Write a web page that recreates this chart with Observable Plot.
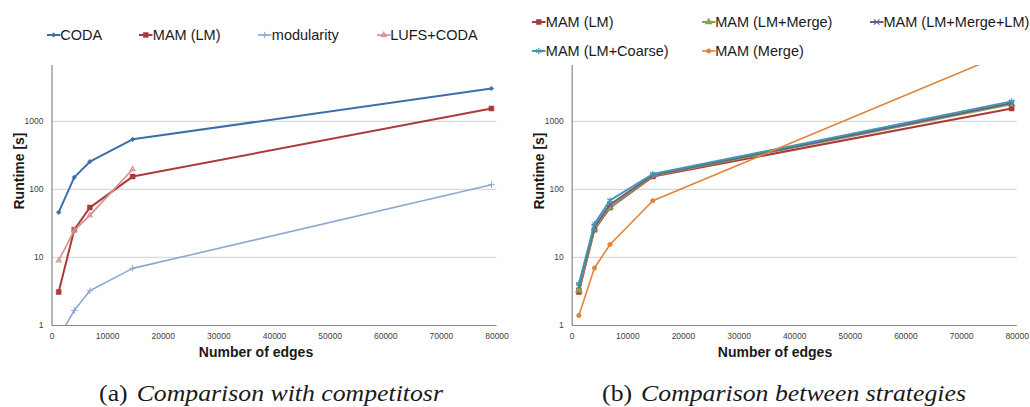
<!DOCTYPE html>
<html><head><meta charset="utf-8">
<script src="https://cdn.jsdelivr.net/npm/d3@7"></script>
<script src="https://cdn.jsdelivr.net/npm/@observablehq/plot@0.6"></script>
<style>
body{margin:0;background:#fff;}
#wrap{position:relative;width:1030px;height:407px;overflow:hidden;font-family:"Liberation Sans",Arial,sans-serif;}
.panel{position:absolute;top:0;width:515px;height:407px;}
.leg{position:absolute;font-size:14.5px;color:#1a1a1a;white-space:nowrap;line-height:16px;transform:translateY(-50%);}
.sw{position:absolute;overflow:visible;}
.ylab{position:absolute;font-weight:bold;font-size:14px;color:#1a1a1a;white-space:nowrap;transform:translate(-50%,-50%) rotate(-90deg);}
.xlab{position:absolute;font-weight:bold;font-size:14px;color:#1a1a1a;white-space:nowrap;transform:translate(-50%,-50%);}
.cap{position:absolute;font-family:"Liberation Serif","Times New Roman",serif;font-size:23px;color:#1a1a1a;white-space:nowrap;line-height:26px;transform:translate(-50%,-50%) scaleX(1.12);}
.cap i{margin-left:8px;}
</style></head><body>
<div id="wrap"></div>
<script>
// ---- data ----
const edges = [1200, 4000, 6800, 14500, 79000];
const lufsEdges = [1200, 4000, 6800, 14500];
const coda = [46, 150, 255, 543, 3030];
const mamLM = [3.1, 25.5, 54, 154, 1540];
const modularity = [0.67, 1.66, 3.24, 6.9, 117];
const lufsCoda = [9.0, 25, 41.5, 197];
const mamLMMerge = [3.3, 26.4, 55, 158, 1780];
const mamLMMergeLM = [3.8, 28, 60, 162, 1860];
const mamLMCoarse = [4.1, 31, 69, 168, 1960];
const mamMerge = [1.4, 7.0, 15.5, 68, 10800];
const xTicks = [0, 10000, 20000, 30000, 40000, 50000, 60000, 70000, 80000];
const yTicks = [1, 10, 100, 1000];
const yGrid = [10, 100, 1000];

const seriesA = [
  {name:"CODA", xs:edges, ys:coda, color:"#3D6FA8", symbol:"diamond2", r:2.1, w:2, filled:true},
  {name:"MAM (LM)", xs:edges, ys:mamLM, color:"#AA3B39", symbol:"square", r:2.8, w:2, filled:true},
  {name:"modularity", xs:edges, ys:modularity, color:"#8FA8D3", symbol:"plus", r:2.2, w:1.6, filled:false},
  {name:"LUFS+CODA", xs:lufsEdges, ys:lufsCoda, color:"#D58E8E", symbol:"triangle", r:1.8, w:1.6, filled:false}
];
const seriesB = [
  {name:"MAM (LM)", xs:edges, ys:mamLM, color:"#AA3B39", symbol:"square", r:2.8, w:2, filled:true},
  {name:"MAM (LM+Merge)", xs:edges, ys:mamLMMerge, color:"#89A54E", symbol:"triangle", r:2.6, w:2, filled:true},
  {name:"MAM (LM+Merge+LM)", xs:edges, ys:mamLMMergeLM, color:"#71588F", symbol:"times", r:2.6, w:2, filled:false},
  {name:"MAM (LM+Coarse)", xs:edges, ys:mamLMCoarse, color:"#4198AF", symbol:"asterisk", r:3, w:2, filled:false},
  {name:"MAM (Merge)", xs:edges, ys:mamMerge, color:"#E0843A", symbol:"circle", r:2.3, w:1.6, filled:true}
];

function rows(s){ return s.xs.map((x,i)=>({x, y:s.ys[i]})); }

function makePlot(series, marginLeft, marginRight){
  const marks = [
    Plot.gridY(yGrid, {stroke:"#d9d9d9", strokeOpacity:1, strokeWidth:1.2}),
    Plot.ruleX([0], {stroke:"#868686", strokeWidth:1.2}),
    Plot.ruleY([1], {stroke:"#868686", strokeWidth:1.2}),
    Plot.axisX(xTicks, {tickSize:0, tickPadding:7, tickFormat:d=>String(d), fontSize:8.5, color:"#404040", label:null}),
    Plot.axisY(yTicks, {tickSize:0, tickPadding:8.5, tickFormat:d=>String(d), fontSize:8.5, color:"#404040", label:null})
  ];
  for (const s of series){
    const d = rows(s);
    marks.push(Plot.line(d, {x:"x", y:"y", stroke:s.color, strokeWidth:s.w, clip:true}));
    marks.push(Plot.dot(d, {x:"x", y:"y", symbol:()=>s.symbol, r:s.r, clip:true,
      fill: s.filled ? s.color : "none", stroke: s.color, strokeWidth: s.filled ? 0.5 : 1.1}));
  }
  return Plot.plot({
    width:515, height:407, marginTop:65, marginBottom:82, marginLeft, marginRight,
    style:{fontFamily:"'Liberation Sans', Arial, sans-serif", background:"transparent"},
    x:{domain:[0,80000], label:null},
    y:{type:"log", domain:[1,6600], label:null},
    symbol:{type:"identity"},
    marks
  });
}

const symMap = {diamond2:d3.symbolDiamond2, square:d3.symbolSquare, plus:d3.symbolPlus, triangle:d3.symbolTriangle,
  times:d3.symbolTimes, asterisk:d3.symbolAsterisk, circle:d3.symbolCircle};

function addLegend(panel, s, x, y){
  const svg = d3.select(panel).append("svg").attr("class","sw")
    .attr("width",14).attr("height",10).style("left",(x)+"px").style("top",(y-5)+"px");
  svg.append("line").attr("x1",0).attr("x2",13.5).attr("y1",5).attr("y2",5)
    .attr("stroke",s.color).attr("stroke-width",s.w);
  svg.append("path").attr("transform","translate(6.75,5)")
    .attr("d", d3.symbol(symMap[s.symbol], Math.PI*s.r*s.r)())
    .attr("fill", s.filled ? s.color : "none").attr("stroke", s.color).attr("stroke-width", s.filled?0.5:1.1);
  d3.select(panel).append("div").attr("class","leg").style("left",(x+13.5)+"px").style("top",y+"px").text(s.name);
}

const wrap = document.getElementById("wrap");
const pA = document.createElement("div"); pA.className="panel"; pA.style.left="0px";
const pB = document.createElement("div"); pB.className="panel"; pB.style.left="515px";
wrap.append(pA, pB);
pA.append(makePlot(seriesA, 51.5, 18.5));
pB.append(makePlot(seriesB, 56.7, 13.3));

const legA = [[46.7,35],[139.3,35],[258.3,35],[376.7,35]];
seriesA.forEach((s,i)=>addLegend(pA, s, legA[i][0], legA[i][1]));
const legB = [[17.3,21.5],[186.7,21.5],[355,21.5],[17.3,50.5],[186.7,50.5]];
seriesB.forEach((s,i)=>addLegend(pB, s, legB[i][0], legB[i][1]));

function addText(panel, cls, x, y, html){
  const d = document.createElement("div"); d.className=cls; d.style.left=x+"px"; d.style.top=y+"px"; d.innerHTML=html; panel.append(d);
}
addText(pA, "ylab", 19, 171, "Runtime [s]");
addText(pB, "ylab", 24, 171, "Runtime [s]");
addText(pA, "xlab", 256, 352, "Number of edges");
addText(pB, "xlab", 260, 352, "Number of edges");
addText(pA, "cap", 270.5, 394, "(a)<i>Comparison with competitosr</i>");
addText(pB, "cap", 269, 394, "(b)<i>Comparison between strategies</i>");
</script>
</body></html>
